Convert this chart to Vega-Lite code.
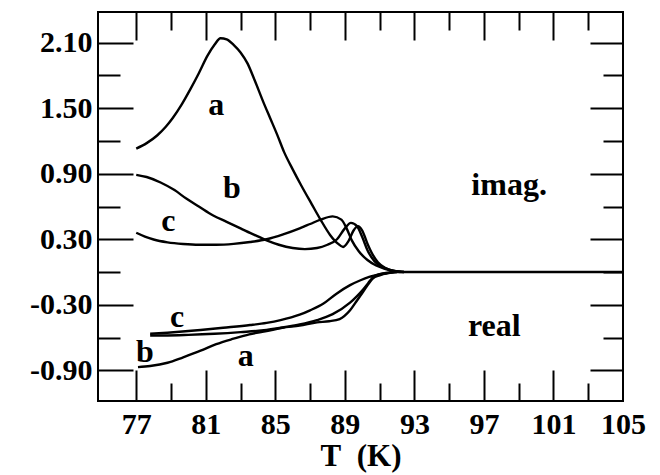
{
  "$schema": "https://vega.github.io/schema/vega-lite/v6.json",
  "width": 525,
  "height": 389,
  "autosize": {"type": "none"},
  "padding": {"left": 98, "top": 12, "right": 37, "bottom": 74},
  "background": "white",
  "config": {
    "view": {"stroke": "black", "strokeWidth": 2},
    "axis": {
      "domain": false, "grid": false, "tickColor": "black", "tickWidth": 2,
      "labelFont": "Liberation Serif", "labelFontWeight": "bold", "labelFontSize": 30, "labelColor": "black",
      "titleFont": "Liberation Serif", "titleFontWeight": "bold", "titleFontSize": 31, "titleColor": "black"
    }
  },
  "datasets": {
    "curves": [
      {"s": "a_im", "T": 77.0, "v": 1.13}, {"s": "a_im", "T": 77.6, "v": 1.18}, {"s": "a_im", "T": 78.2, "v": 1.25},
      {"s": "a_im", "T": 78.7, "v": 1.33}, {"s": "a_im", "T": 79.1, "v": 1.41}, {"s": "a_im", "T": 79.6, "v": 1.53},
      {"s": "a_im", "T": 80.1, "v": 1.67}, {"s": "a_im", "T": 80.6, "v": 1.82}, {"s": "a_im", "T": 81.1, "v": 1.98},
      {"s": "a_im", "T": 81.5, "v": 2.08}, {"s": "a_im", "T": 81.85, "v": 2.14}, {"s": "a_im", "T": 82.2, "v": 2.13},
      {"s": "a_im", "T": 82.6, "v": 2.08}, {"s": "a_im", "T": 83.0, "v": 2.01}, {"s": "a_im", "T": 83.4, "v": 1.91},
      {"s": "a_im", "T": 83.8, "v": 1.76}, {"s": "a_im", "T": 84.3, "v": 1.56}, {"s": "a_im", "T": 84.7, "v": 1.41},
      {"s": "a_im", "T": 85.1, "v": 1.26}, {"s": "a_im", "T": 85.5, "v": 1.10}, {"s": "a_im", "T": 86.0, "v": 0.94},
      {"s": "a_im", "T": 86.5, "v": 0.79}, {"s": "a_im", "T": 87.1, "v": 0.62}, {"s": "a_im", "T": 87.6, "v": 0.48},
      {"s": "a_im", "T": 88.15, "v": 0.34}, {"s": "a_im", "T": 88.6, "v": 0.26}, {"s": "a_im", "T": 88.9, "v": 0.23},
      {"s": "a_im", "T": 89.2, "v": 0.28}, {"s": "a_im", "T": 89.5, "v": 0.38}, {"s": "a_im", "T": 89.75, "v": 0.42},
      {"s": "a_im", "T": 90.0, "v": 0.38}, {"s": "a_im", "T": 90.3, "v": 0.26}, {"s": "a_im", "T": 90.6, "v": 0.16},
      {"s": "a_im", "T": 90.9, "v": 0.09}, {"s": "a_im", "T": 91.3, "v": 0.04}, {"s": "a_im", "T": 91.8, "v": 0.01},
      {"s": "a_im", "T": 92.4, "v": 0.0},

      {"s": "b_im", "T": 77.0, "v": 0.89}, {"s": "b_im", "T": 77.6, "v": 0.87}, {"s": "b_im", "T": 78.4, "v": 0.82},
      {"s": "b_im", "T": 79.2, "v": 0.75}, {"s": "b_im", "T": 79.9, "v": 0.67}, {"s": "b_im", "T": 80.6, "v": 0.60},
      {"s": "b_im", "T": 81.4, "v": 0.52}, {"s": "b_im", "T": 82.2, "v": 0.46}, {"s": "b_im", "T": 83.0, "v": 0.40},
      {"s": "b_im", "T": 83.8, "v": 0.34}, {"s": "b_im", "T": 84.5, "v": 0.29}, {"s": "b_im", "T": 85.2, "v": 0.25},
      {"s": "b_im", "T": 86.0, "v": 0.22}, {"s": "b_im", "T": 86.7, "v": 0.21}, {"s": "b_im", "T": 87.4, "v": 0.22},
      {"s": "b_im", "T": 88.0, "v": 0.25}, {"s": "b_im", "T": 88.55, "v": 0.30}, {"s": "b_im", "T": 89.0, "v": 0.40},
      {"s": "b_im", "T": 89.35, "v": 0.45}, {"s": "b_im", "T": 89.7, "v": 0.42}, {"s": "b_im", "T": 90.0, "v": 0.32},
      {"s": "b_im", "T": 90.3, "v": 0.20}, {"s": "b_im", "T": 90.7, "v": 0.10}, {"s": "b_im", "T": 91.1, "v": 0.05},
      {"s": "b_im", "T": 91.6, "v": 0.02}, {"s": "b_im", "T": 92.2, "v": 0.0},

      {"s": "c_im", "T": 77.0, "v": 0.36}, {"s": "c_im", "T": 77.5, "v": 0.325}, {"s": "c_im", "T": 78.0, "v": 0.298},
      {"s": "c_im", "T": 78.8, "v": 0.272}, {"s": "c_im", "T": 79.7, "v": 0.257}, {"s": "c_im", "T": 80.6, "v": 0.25},
      {"s": "c_im", "T": 81.6, "v": 0.25}, {"s": "c_im", "T": 82.6, "v": 0.258}, {"s": "c_im", "T": 83.55, "v": 0.275},
      {"s": "c_im", "T": 84.5, "v": 0.30}, {"s": "c_im", "T": 85.45, "v": 0.345}, {"s": "c_im", "T": 86.4, "v": 0.40},
      {"s": "c_im", "T": 87.0, "v": 0.44}, {"s": "c_im", "T": 87.6, "v": 0.48}, {"s": "c_im", "T": 88.3, "v": 0.51},
      {"s": "c_im", "T": 88.8, "v": 0.48}, {"s": "c_im", "T": 89.1, "v": 0.40}, {"s": "c_im", "T": 89.4, "v": 0.29},
      {"s": "c_im", "T": 89.8, "v": 0.19}, {"s": "c_im", "T": 90.3, "v": 0.11}, {"s": "c_im", "T": 90.8, "v": 0.06},
      {"s": "c_im", "T": 91.3, "v": 0.03}, {"s": "c_im", "T": 91.8, "v": 0.01}, {"s": "c_im", "T": 92.4, "v": 0.0},

      {"s": "a_re", "T": 77.1, "v": -0.87}, {"s": "a_re", "T": 77.8, "v": -0.86}, {"s": "a_re", "T": 78.8, "v": -0.83},
      {"s": "a_re", "T": 79.7, "v": -0.78}, {"s": "a_re", "T": 80.7, "v": -0.72}, {"s": "a_re", "T": 81.6, "v": -0.66},
      {"s": "a_re", "T": 82.6, "v": -0.61}, {"s": "a_re", "T": 83.5, "v": -0.57}, {"s": "a_re", "T": 84.5, "v": -0.54},
      {"s": "a_re", "T": 85.4, "v": -0.51}, {"s": "a_re", "T": 86.4, "v": -0.49}, {"s": "a_re", "T": 87.4, "v": -0.46},
      {"s": "a_re", "T": 88.1, "v": -0.45}, {"s": "a_re", "T": 88.7, "v": -0.43}, {"s": "a_re", "T": 89.3, "v": -0.35},
      {"s": "a_re", "T": 89.7, "v": -0.26}, {"s": "a_re", "T": 90.05, "v": -0.18}, {"s": "a_re", "T": 90.35, "v": -0.11},
      {"s": "a_re", "T": 90.6, "v": -0.06}, {"s": "a_re", "T": 91.0, "v": -0.03}, {"s": "a_re", "T": 91.5, "v": -0.01},
      {"s": "a_re", "T": 92.0, "v": 0.0},

      {"s": "b_re", "T": 77.8, "v": -0.58}, {"s": "b_re", "T": 78.8, "v": -0.58}, {"s": "b_re", "T": 80.0, "v": -0.575},
      {"s": "b_re", "T": 81.5, "v": -0.565}, {"s": "b_re", "T": 83.0, "v": -0.55}, {"s": "b_re", "T": 84.5, "v": -0.53},
      {"s": "b_re", "T": 85.5, "v": -0.505}, {"s": "b_re", "T": 86.4, "v": -0.48}, {"s": "b_re", "T": 87.4, "v": -0.44},
      {"s": "b_re", "T": 88.3, "v": -0.385}, {"s": "b_re", "T": 89.3, "v": -0.28}, {"s": "b_re", "T": 89.7, "v": -0.22},
      {"s": "b_re", "T": 90.05, "v": -0.16}, {"s": "b_re", "T": 90.35, "v": -0.10}, {"s": "b_re", "T": 90.6, "v": -0.05},
      {"s": "b_re", "T": 91.0, "v": -0.02}, {"s": "b_re", "T": 91.5, "v": -0.005}, {"s": "b_re", "T": 92.0, "v": 0.0},

      {"s": "c_re", "T": 77.8, "v": -0.565}, {"s": "c_re", "T": 78.8, "v": -0.555}, {"s": "c_re", "T": 80.0, "v": -0.54},
      {"s": "c_re", "T": 80.7, "v": -0.53}, {"s": "c_re", "T": 82.0, "v": -0.51}, {"s": "c_re", "T": 83.55, "v": -0.485},
      {"s": "c_re", "T": 84.5, "v": -0.465}, {"s": "c_re", "T": 85.3, "v": -0.44}, {"s": "c_re", "T": 86.4, "v": -0.39},
      {"s": "c_re", "T": 87.0, "v": -0.35}, {"s": "c_re", "T": 87.75, "v": -0.29}, {"s": "c_re", "T": 88.5, "v": -0.20},
      {"s": "c_re", "T": 89.3, "v": -0.12}, {"s": "c_re", "T": 89.9, "v": -0.075}, {"s": "c_re", "T": 90.4, "v": -0.045},
      {"s": "c_re", "T": 91.2, "v": -0.015}, {"s": "c_re", "T": 91.8, "v": 0.0},

      {"s": "base", "T": 92.0, "v": 0.0}, {"s": "base", "T": 105.0, "v": 0.0}
    ],
    "notes": [
      {"label": "a", "T": 81.6, "v": 1.53},
      {"label": "b", "T": 82.5, "v": 0.77},
      {"label": "c", "T": 78.85, "v": 0.47},
      {"label": "imag.", "T": 98.45, "v": 0.8},
      {"label": "real", "T": 97.6, "v": -0.49},
      {"label": "c", "T": 79.35, "v": -0.41},
      {"label": "b", "T": 77.5, "v": -0.73},
      {"label": "a", "T": 83.3, "v": -0.77}
    ]
  },
  "resolve": {"axis": {"x": "independent", "y": "independent"}},
  "layer": [
    {
      "data": {"name": "curves"},
      "mark": {"type": "line", "color": "black", "strokeWidth": 2.4, "interpolate": "monotone", "clip": true},
      "encoding": {
        "x": {"field": "T", "type": "quantitative",
          "scale": {"domain": [74.8, 105], "nice": false, "zero": false},
          "axis": {"orient": "bottom", "values": [77, 81, 85, 89, 93, 97, 101, 105], "ticks": false,
            "labelPadding": 8, "labelFlush": false, "labelOverlap": false, "format": "d",
            "title": "T\u00a0\u00a0(K)", "titlePadding": 2}},
        "y": {"field": "v", "type": "quantitative",
          "scale": {"domain": [-1.18, 2.38], "nice": false, "zero": false},
          "axis": {"orient": "left", "values": [2.1, 1.5, 0.9, 0.3, -0.3, -0.9], "ticks": false,
            "labelPadding": 6, "labelFlush": false, "labelOverlap": false, "title": null,
            "labelExpr": "datum.value < 0 ? '-' + format(-datum.value, '.2f') : format(datum.value, '.2f')"}},
        "detail": {"field": "s", "type": "nominal"}
      }
    },
    {
      "data": {"name": "notes"},
      "mark": {"type": "text", "font": "Liberation Serif", "fontWeight": "bold", "fontSize": 32, "color": "black", "align": "center", "baseline": "middle"},
      "encoding": {
        "x": {"field": "T", "type": "quantitative",
          "scale": {"domain": [74.8, 105], "nice": false, "zero": false},
          "axis": {"orient": "bottom", "values": [77, 81, 85, 89, 93, 97, 101], "offset": -31, "tickSize": 31, "labels": false, "title": null}},
        "y": {"field": "v", "type": "quantitative",
          "scale": {"domain": [-1.18, 2.38], "nice": false, "zero": false},
          "axis": {"orient": "left", "values": [2.1, 1.5, 0.9, 0.3, -0.3, -0.9], "offset": -35, "tickSize": 35, "labels": false, "title": null}},
        "text": {"field": "label", "type": "nominal"}
      }
    },
    {
      "data": {"name": "notes"},
      "mark": {"type": "point", "opacity": 0},
      "encoding": {
        "x": {"field": "T", "type": "quantitative",
          "scale": {"domain": [74.8, 105], "nice": false, "zero": false},
          "axis": {"orient": "bottom", "values": [79, 83, 87, 91, 95, 99, 103], "offset": -18, "tickSize": 18, "labels": false, "title": null}},
        "y": {"field": "v", "type": "quantitative",
          "scale": {"domain": [-1.18, 2.38], "nice": false, "zero": false},
          "axis": {"orient": "left", "values": [1.8, 1.2, 0.6, 0.0, -0.6], "offset": -22, "tickSize": 22, "labels": false, "title": null}}
      }
    },
    {
      "data": {"name": "notes"},
      "mark": {"type": "point", "opacity": 0},
      "encoding": {
        "x": {"field": "T", "type": "quantitative",
          "scale": {"domain": [74.8, 105], "nice": false, "zero": false},
          "axis": {"orient": "top", "values": [77, 81, 85, 89, 93, 97, 101], "offset": -28, "tickSize": 28, "labels": false, "title": null}},
        "y": {"field": "v", "type": "quantitative",
          "scale": {"domain": [-1.18, 2.38], "nice": false, "zero": false},
          "axis": {"orient": "right", "values": [2.1, 1.5, 0.9, 0.3, -0.3, -0.9], "offset": -33, "tickSize": 33, "labels": false, "title": null}}
      }
    },
    {
      "data": {"name": "notes"},
      "mark": {"type": "point", "opacity": 0},
      "encoding": {
        "x": {"field": "T", "type": "quantitative",
          "scale": {"domain": [74.8, 105], "nice": false, "zero": false},
          "axis": {"orient": "top", "values": [79, 83, 87, 91, 95, 99, 103], "offset": -18, "tickSize": 18, "labels": false, "title": null}},
        "y": {"field": "v", "type": "quantitative",
          "scale": {"domain": [-1.18, 2.38], "nice": false, "zero": false},
          "axis": {"orient": "right", "values": [1.8, 1.2, 0.6, 0.0, -0.6], "offset": -20, "tickSize": 20, "labels": false, "title": null}}
      }
    }
  ]
}
